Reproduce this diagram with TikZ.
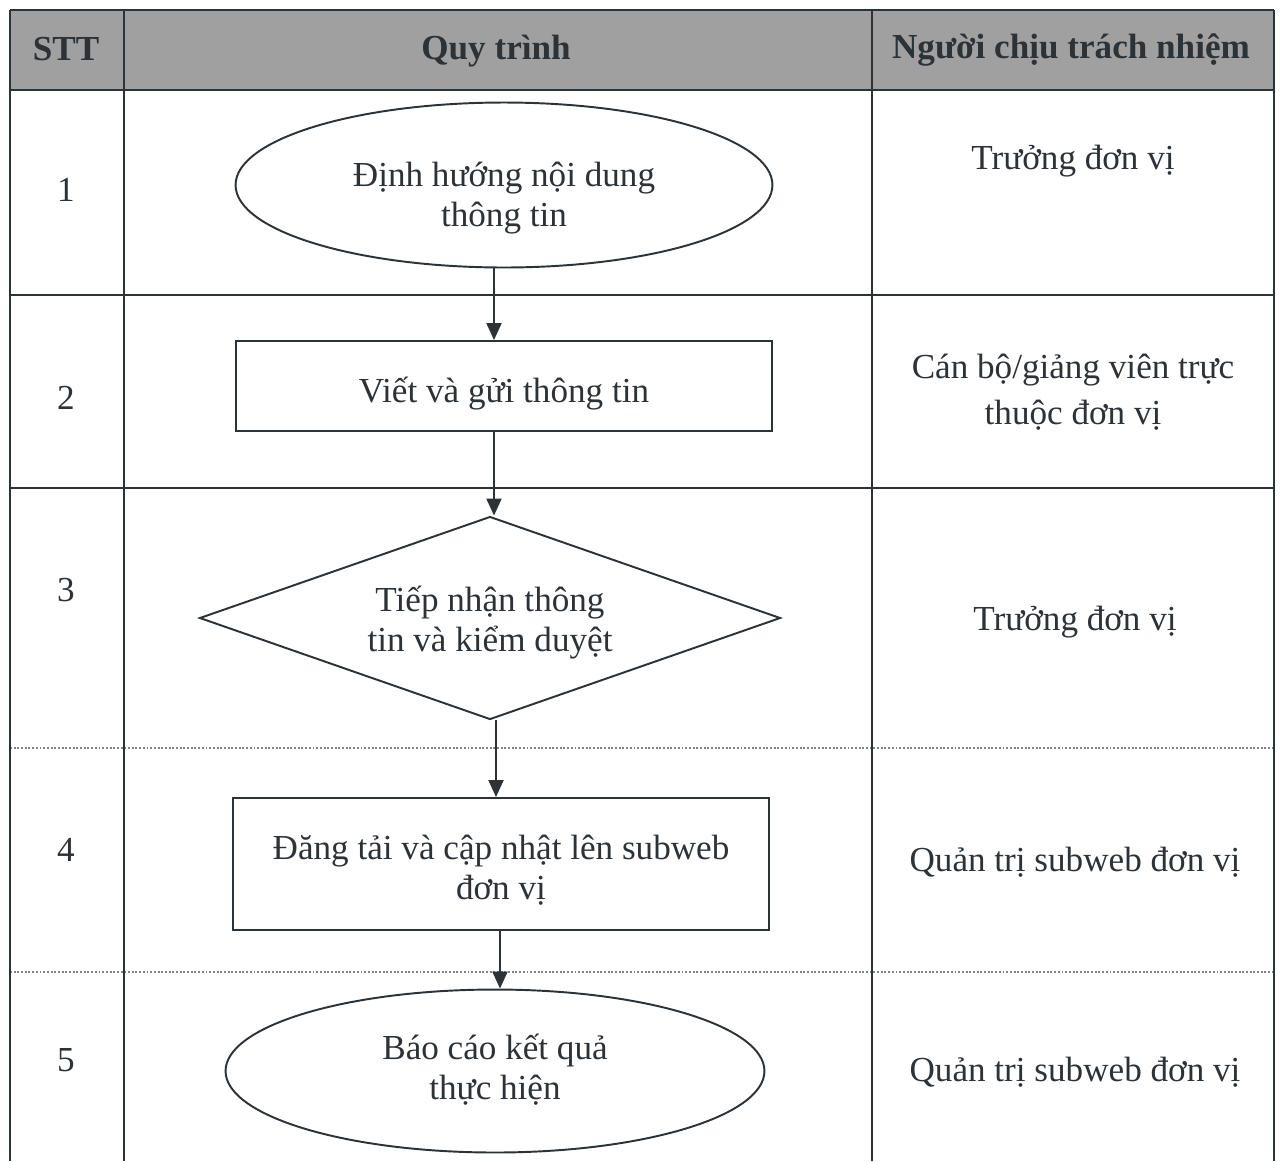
\documentclass[tikz,border=0pt]{standalone}
\usepackage{fontspec}
\setmainfont{Liberation Serif}
\usepackage{xcolor}
\usetikzlibrary{shapes.geometric,arrows.meta}

\definecolor{ink}{RGB}{45,50,55}
\definecolor{headgray}{RGB}{160,160,160}

\begin{document}
\begin{tikzpicture}[x=0.02cm, y=-0.02cm,
    every node/.style={text=ink, font=\fontsize{20}{23}\selectfont},
    head/.style={font=\fontsize{20}{23}\selectfont\bfseries},
    grid/.style={draw=ink, line width=1.1pt},
    softgrid/.style={draw=ink!60, line width=1.1pt, densely dotted},
    oval/.style={draw=ink, line width=1.1pt, ellipse, inner sep=0pt, align=center, text depth=2.4pt},
    box/.style={draw=ink, line width=1.1pt, rectangle, inner sep=0pt, align=center, text depth=2.4pt},
    check/.style={draw=ink, line width=1.1pt, diamond, aspect=2.86, inner sep=0pt, align=center, text depth=2.4pt},
    flow/.style={draw=ink, line width=1.1pt, -{Triangle[length=0.34cm, width=0.3cm]}}]

        \useasboundingbox (0,0) rectangle (1280,1161);
        \fill[white] (0,0) rectangle (1280,1161);

        % header band
        \fill[headgray] (10,10) rectangle (1274,90);

        % table lines
        \foreach \y in {10,90,295,488} {
          \draw[grid] (10,\y) -- (1274,\y);
        }
        \foreach \y in {748,972} {
          \draw[softgrid] (10,\y) -- (1274,\y);
        }
        \foreach \x in {10,124,872,1274} {
          \draw[grid] (\x,10) -- (\x,1161);
        }

        % header texts
        \node[head] (hstt) at (66,49) {STT};
        \node[head] (hquy) at (496,51) {Quy trình};
        \node[head] (hnguoi) at (1071,50) {Người chịu trách nhiệm};

        % row numbers
        \foreach \n/\y in {1/190,2/398,3/590,4/850,5/1060} {
          \node (stt\n) at (66,\y) {\n};
        }

        % flow shapes
        \node[oval, minimum width=10.74cm, minimum height=3.3cm, text height=50pt] (proc1) at (504,185) {Định hướng nội dung\\thông tin};
        \node[box, minimum width=10.74cm, minimum height=1.8cm, text height=21.7pt] (proc2) at (504,386) {Viết và gửi thông tin};
        \node[check, minimum width=11.62cm, minimum height=4.06cm, text height=41pt] (proc3) at (490,618) {Tiếp nhận thông\\tin và kiểm duyệt};
        \node[box, minimum width=10.74cm, minimum height=2.64cm, text height=43.2pt] (proc4) at (501,864) {Đăng tải và cập nhật lên subweb\\đơn vị};
        \node[oval, minimum width=10.78cm, minimum height=3.26cm, text height=35.3pt] (proc5) at (495,1071) {Báo cáo kết quả\\thực hiện};

        % arrows
        \coordinate (a1) at (494,0);
        \coordinate (a2) at (494,0);
        \coordinate (a3) at (496,0);
        \coordinate (a4) at (500,0);
        \draw[flow] (proc1.south -| a1) -- (proc2.north -| a1);
        \draw[flow] (proc2.south -| a2) -- (proc3.north -| a2);
        \draw[flow] (proc3.south -| a3) -- (proc4.north -| a3);
        \draw[flow] (proc4.south -| a4) -- (proc5.north -| a4);

        % who is responsible
        \node (who1) at (1073,161) {Trưởng đơn vị};
        \node[align=center, font=\fontsize{20}{26}\selectfont] (who2) at (1073,392) {Cán bộ/giảng viên trực\\thuộc đơn vị};
        \node (who3) at (1075,622) {Trưởng đơn vị};
        \node (who4) at (1075,862) {Quản trị subweb đơn vị};
        \node (who5) at (1075,1072) {Quản trị subweb đơn vị};
      \end{tikzpicture}
\end{document}
